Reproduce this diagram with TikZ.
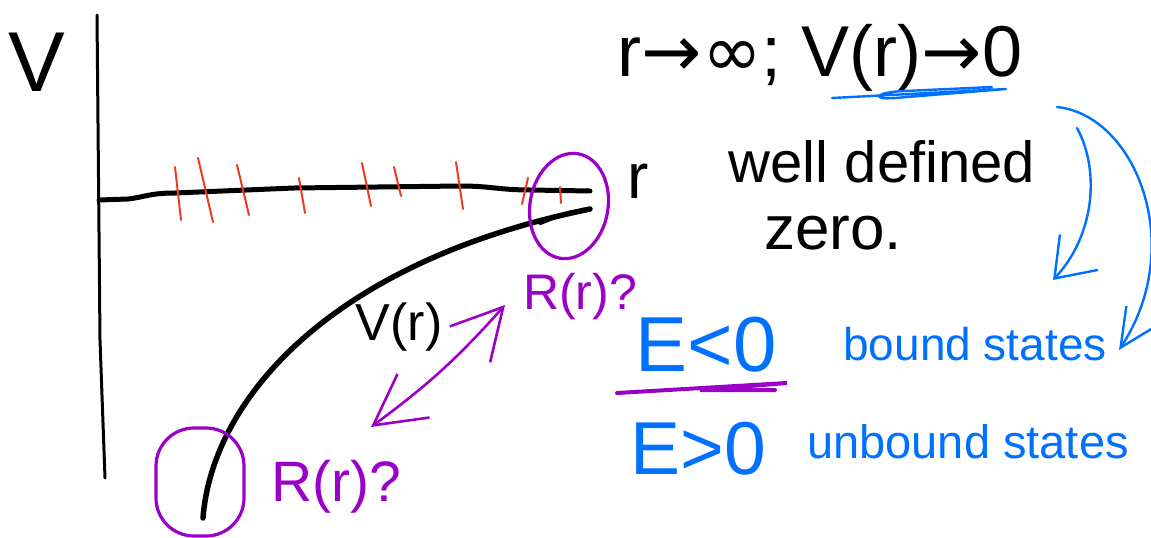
\documentclass[tikz,border=0pt]{standalone}
\usepackage{fontspec}
\setmainfont{Liberation Sans}
\newfontfamily\symfont{DejaVu Sans}
\usetikzlibrary{arrows.meta,positioning,calc,shapes.geometric}
\definecolor{inkred}{RGB}{238,58,30}
\definecolor{inkpurple}{RGB}{155,0,200}
\definecolor{inkblue}{RGB}{0,112,255}
\newcommand\fsz[1]{\fontsize{#1}{#1}\selectfont}
\tikzset{
  axisline/.style={draw=black, line width=3pt, line cap=round, line join=round},
  potcurve/.style={draw=black, line width=5.5pt, line cap=round},
  redtick/.style={draw=inkred, line width=2pt, line cap=round},
  ring/.style={draw=inkpurple, line width=3.2pt, inner sep=0pt},
  inktext/.style={inner sep=0pt, anchor=center},
  purplearrow/.style={draw=inkpurple, line width=2.6pt, line cap=round, line join=round,
                      {Straight Barb[length=50pt,width=54pt]}-{Straight Barb[length=50pt,width=54pt]}},
  bluearrow/.style={draw=inkblue, line width=2.4pt, line cap=round, line join=round}
}
\begin{document}
\begin{tikzpicture}[x=1pt, y=-1pt]
\useasboundingbox (0,0) rectangle (1151,538);
% axes
\coordinate (vtop) at (97,15);
\coordinate (origin) at (99,200);
\coordinate (vbot) at (105,478);
\coordinate (axend) at (590,191);
\draw[axisline] (vtop) -- (100,340) -- (vbot);
\draw[axisline, line width=5pt] (origin) -- (128,199) .. controls (145,197) and (150,193) .. (175,193)
  -- (294,188) -- (461,186) .. controls (490,186) and (500,190) .. (530,190) -- (axend);
\foreach \xa/\ya/\xb/\yb in {175/167/181/220, 198/158/213/222, 237/165/249/215,
  299/178/305/213, 362/163/371/206, 394/167/401/196, 456/162/463/209,
  528/178/522/204, 560/187/561/203}
  \draw[redtick] (\xa,\ya) -- (\xb,\yb);
\node[inktext, font=\fsz{85}] (vlabel) at (37,62) {V};
\node[inktext, font=\fsz{64}] (rlabel) at (638,181) {r};
% potential
\coordinate (curvebot) at (203,518);
\coordinate (curvetop) at (590,209);
\draw[potcurve] (curvebot) .. controls (212,400) and (330,262) .. (curvetop);
\draw[potcurve, line width=2.5pt] (540,224) -- (572,211);
\node[inktext, font=\fsz{52}] (vrlabel) at (399,327) {V(r)};
% purple marks
\node[ring, ellipse, minimum width=78pt, minimum height=106pt, rotate=-10] (endring) at (569,206) {};
\node[ring, rectangle, rounded corners=38pt, minimum width=88pt, minimum height=108pt] (botring) at (200,482) {};
\node[inktext, text=inkpurple, font=\fsz{50}] (rtop) at (580,297) {R(r)?};
\node[inktext, text=inkpurple, font=\fsz{57}] (rbot) at (336,487) {R(r)?};
\coordinate (pa) at (371,427);
\coordinate (pb) at (505,305);
\draw[purplearrow] (pa) to[bend right=6] (pb);
% right column
\node[inktext, font=\fsz{72}] (limit) at (820,58)
  {r{\symfont →}{\symfont ∞}; V(r){\symfont →}0};
\draw[bluearrow] (832,98) -- (1006,89) -- (895,98) .. controls (870,100) and (875,92) .. (905,91) -- (992,87);
\node[inktext, font=\fsz{58}] (welldef) at (882,162) {well defined};
\node[inktext, font=\fsz{62}] (zerotxt) at (833,233) {zero.};
\node[inktext, text=inkblue, font=\fsz{78}] (eneg) at (706,345) {E<0};
\node[inktext, text=inkblue, font=\fsz{75}] (epos) at (698,449) {E>0};
\draw[draw=inkpurple, line width=4pt, line cap=round] (617,393) -- (787,383) -- (700,390) -- (775,390);
\node[inktext, text=inkblue, font=\fsz{46}] (bound) at (975,344) {bound states};
\node[inktext, text=inkblue, font=\fsz{47}] (unbound) at (968,442) {unbound states};
% blue arrows
\coordinate (sa) at (1077,128);
\coordinate (sb) at (1053,280);
\coordinate (ba) at (1057,107);
\coordinate (bb) at (1119,350);
\draw[bluearrow, -{Straight Barb[length=36pt,width=52pt]}] (sa) .. controls (1100,170) and (1095,235) .. (sb);
\draw[bluearrow, -{Straight Barb[length=38pt,width=36pt]}] (ba) .. controls (1135,115) and (1188,245) .. (bb);
\end{tikzpicture}
\end{document}
